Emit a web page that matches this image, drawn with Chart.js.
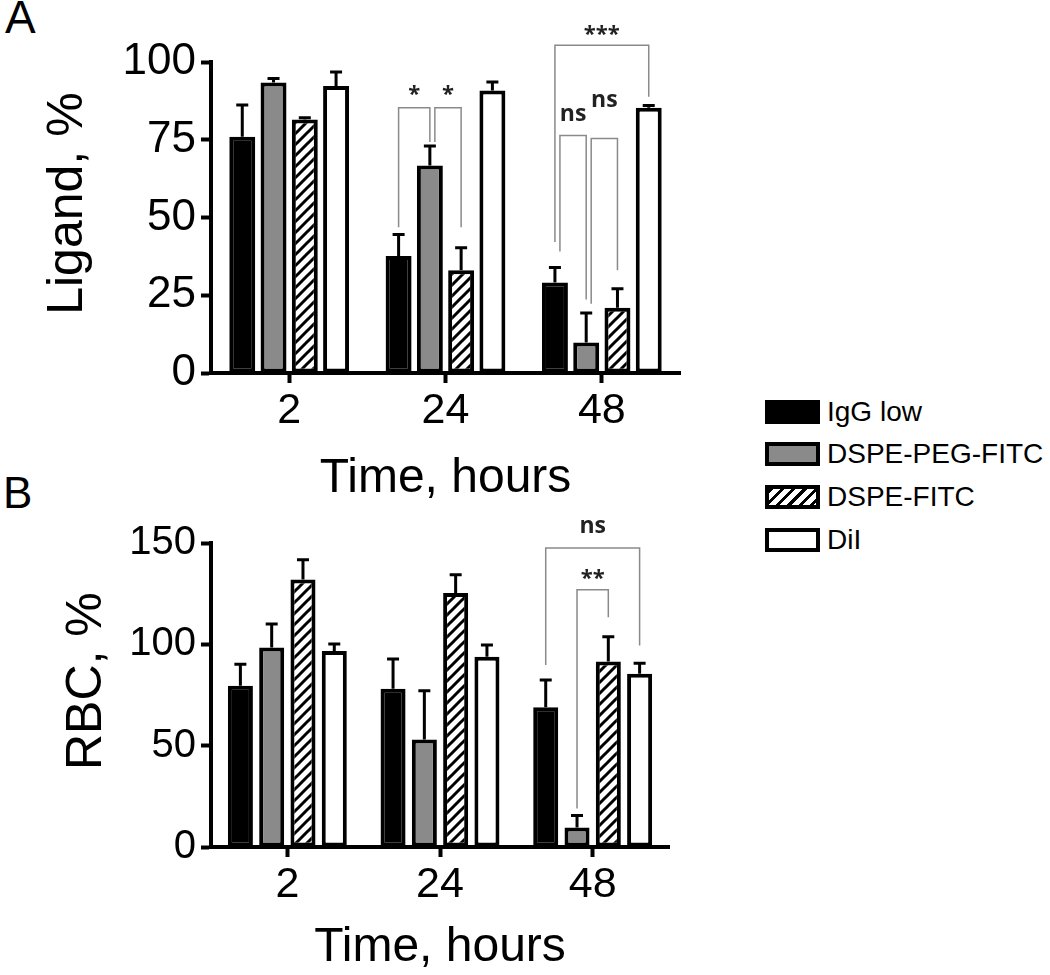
<!DOCTYPE html>
<html>
<head>
<meta charset="utf-8">
<script src="https://cdn.jsdelivr.net/npm/chart.js@4.4.0/dist/chart.umd.min.js"></script>
<style>
  body { margin: 0; background: #fff; width: 1050px; height: 975px; position: relative; overflow: hidden;
         font-family: "Liberation Sans", Arial, sans-serif; color: #000; }
  canvas { position: absolute; left: 0; }
  #chartA { top: 0; }
  #chartB { top: 490px; }
  .panel { position: absolute; line-height: 1; }
  .legend { position: absolute; left: 765px; top: 400px; }
  .item { position: absolute; left: 0; width: 300px; height: 24px; }
  .swatch { position: absolute; left: 0; top: 0; width: 55px; height: 24px; box-sizing: border-box; border: 4px solid #000; }
  .item span { position: absolute; left: 62px; top: -5px; font-size: 28px; line-height: 34px; white-space: nowrap; }
</style>
</head>
<body>
<div class="panel" style="left:5px; top:-6px; font-size:46px;">A</div>
<div class="panel" style="left:3px; top:471px; font-size:44px;">B</div>
<canvas id="chartA" width="700" height="510"></canvas>
<canvas id="chartB" width="700" height="485"></canvas>
<div class="legend">
  <div class="item" style="top:0"><div class="swatch" style="background:#000"></div><span>IgG low</span></div>
  <div class="item" style="top:42px"><div class="swatch" style="background:#8a8a8a"></div><span>DSPE-PEG-FITC</span></div>
  <div class="item" style="top:85px"><div class="swatch" style="background:repeating-linear-gradient(135deg,#000 0 3px,#fff 3px 8px)"></div><span>DSPE-FITC</span></div>
  <div class="item" style="top:128px"><div class="swatch" style="background:#fff"></div><span>DiI</span></div>
</div>
<script>
const FONT = '"Liberation Sans", Arial, sans-serif';

const timeLabels = ['2', '24', '48'];
const seriesNames = ['IgG low', 'DSPE-PEG-FITC', 'DSPE-FITC', 'DiI'];

// panel A: ligand, %
const ligandMean = [
  [76, 37.6, 29.1],
  [93.4, 66.7, 9.8],
  [81.5, 33, 21],
  [92.3, 90.8, 85.3]
];
const ligandErr = [
  [10.2, 6.9, 4.8],
  [1.3, 6.3, 9.5],
  [0.6, 7.3, 6.1],
  [4.5, 2.8, 0.7]
];
// brackets: group index, bars from/to, leg ends and top in data units, label level
const ligandBrackets = [
  { group: 1, from: 0, to: 1, left: 46.9, right: 74.3, top: 85.3, text: '*', at: 90.9 },
  { group: 1, from: 1, to: 2, left: 74.3, right: 46.9, top: 85.3, text: '*', at: 90.9 },
  { group: 2, from: 0, to: 3, left: 42.1, right: 88.8, top: 105.4, text: '***', at: 110.2 },
  { group: 2, from: 0, to: 1, left: 39.1, right: 23.6, top: 76.4, text: 'ns', at: 82.3 },
  { group: 2, from: 1, to: 2, left: 22.3, right: 33, top: 75.4, text: 'ns', at: 86.6 }
];

// panel B: RBC, %
const rbcMean = [
  [79.6, 78.1, 69],
  [98.4, 53.1, 9.6],
  [132, 125.3, 91.5],
  [96.7, 93.9, 85.5]
];
const rbcErr = [
  [10.6, 14.7, 13.4],
  [11.6, 24, 5.9],
  [9.7, 9, 12.2],
  [3.5, 5.8, 5.2]
];
const rbcBrackets = [
  { group: 2, from: 0, to: 3, left: 89.8, right: 99.4, top: 147.5, text: 'ns', at: 156.9 },
  { group: 2, from: 1, to: 2, left: 19, right: 113.4, top: 126.9, text: '**', at: 134.3 }
];

function hatchPattern() {
  const c = document.createElement('canvas');
  c.width = 11; c.height = 11;
  const g = c.getContext('2d');
  g.fillStyle = '#fff';
  g.fillRect(0, 0, 11, 11);
  g.strokeStyle = '#000';
  g.lineWidth = 3;
  g.beginPath();
  g.moveTo(-2, 13); g.lineTo(13, -2);
  g.moveTo(-7, 7); g.lineTo(7, -7);
  g.moveTo(4, 18); g.lineTo(18, 4);
  g.stroke();
  return g.createPattern(c, 'repeat');
}

const fills = ['#000', '#8a8a8a', hatchPattern(), '#fff'];

const errorBars = {
  id: 'errorBars',
  afterDatasetsDraw(chart) {
    const ctx = chart.ctx;
    const y = chart.scales.y;
    ctx.save();
    ctx.strokeStyle = '#000';
    ctx.lineWidth = 3;
    chart.data.datasets.forEach((ds, i) => {
      chart.getDatasetMeta(i).data.forEach((bar, j) => {
        const top = y.getPixelForValue(ds.data[j] + ds.errors[j]);
        ctx.beginPath();
        ctx.moveTo(bar.x, bar.y);
        ctx.lineTo(bar.x, top);
        ctx.moveTo(bar.x - 6, top);
        ctx.lineTo(bar.x + 6, top);
        ctx.stroke();
      });
    });
    ctx.restore();
  }
};

const brackets = {
  id: 'brackets',
  afterDraw(chart, args, opts) {
    const ctx = chart.ctx;
    const y = chart.scales.y;
    const items = opts.items || [];
    ctx.save();
    items.forEach((b, k) => {
      // nudge a leg sideways when another bracket already uses that bar
      const shared = items.some((o, m) => m < k && o.group === b.group && (o.from === b.from || o.to === b.from));
      const x1 = chart.getDatasetMeta(b.from).data[b.group].x + (shared ? 5 : 0);
      const x2 = chart.getDatasetMeta(b.to).data[b.group].x;
      const yt = y.getPixelForValue(b.top);
      ctx.strokeStyle = '#8a8a8a';
      ctx.lineWidth = 1.5;
      ctx.beginPath();
      ctx.moveTo(x1, y.getPixelForValue(b.left));
      ctx.lineTo(x1, yt);
      ctx.lineTo(x2, yt);
      ctx.lineTo(x2, y.getPixelForValue(b.right));
      ctx.stroke();
      const star = b.text.indexOf('*') === 0;
      ctx.fillStyle = '#222';
      ctx.font = 'bold ' + (star ? 22 : 23) + 'px "Open Sans", sans-serif';
      ctx.textAlign = 'center';
      ctx.textBaseline = 'middle';
      ctx.fillText(b.text, (x1 + x2) / 2, y.getPixelForValue(b.at) + (star ? 4 : -3));
    });
    ctx.restore();
  }
};

function makeChart(id, cfg) {
  const axisLine = { display: true, width: 4, color: '#000' };
  const tickLines = { display: true, drawOnChartArea: false, drawTicks: true, tickLength: 10, tickWidth: 4, tickColor: '#000' };
  return new Chart(document.getElementById(id).getContext('2d'), {
    type: 'bar',
    data: {
      labels: timeLabels,
      datasets: seriesNames.map((name, i) => ({
        label: name,
        data: cfg.mean[i],
        errors: cfg.err[i],
        backgroundColor: fills[i],
        borderColor: '#000',
        borderWidth: 4,
        borderSkipped: false,
        categoryPercentage: cfg.catPct,
        barPercentage: cfg.barPct
      }))
    },
    options: {
      responsive: false,
      animation: false,
      devicePixelRatio: 1,
      layout: { padding: { top: cfg.padTop, right: cfg.padRight, bottom: 0, left: 0 } },
      plugins: {
        legend: { display: false },
        tooltip: { enabled: false },
        brackets: { items: cfg.brackets }
      },
      scales: {
        x: {
          offset: true,
          grid: Object.assign({ offset: false }, tickLines),
          border: axisLine,
          ticks: { color: '#000', font: { family: FONT, size: 43 }, padding: 2, maxRotation: 0 },
          title: { display: true, text: 'Time, hours', color: '#000',
                   font: { family: FONT, size: 48, lineHeight: 1.1 }, padding: { top: 0, bottom: cfg.xTitlePad } },
          afterFit: s => { s.height = cfg.xAxisHeight; }
        },
        y: {
          min: 0,
          max: cfg.max,
          grid: tickLines,
          border: axisLine,
          ticks: { stepSize: cfg.step, color: '#000', font: { family: FONT, size: cfg.yTickSize }, padding: 5 },
          // two leading no-break spaces lift the rotated title a little, as in the original
          title: { display: true, text: '\u00a0\u00a0' + cfg.yTitle, color: '#000',
                   font: { family: FONT, size: 50, lineHeight: 1.1 }, padding: { top: cfg.yTitlePad, bottom: 0 } },
          afterFit: s => { s.width = 211; }
        }
      }
    },
    plugins: [errorBars, brackets]
  });
}

makeChart('chartA', {
  mean: ligandMean, err: ligandErr, brackets: ligandBrackets,
  max: 100, step: 25, yTitle: 'Ligand, %', yTickSize: 44, yTitlePad: 41,
  padTop: 62, padRight: 20, xAxisHeight: 137, xTitlePad: 5,
  catPct: 0.8, barPct: 0.83
});

makeChart('chartB', {
  mean: rbcMean, err: rbcErr, brackets: rbcBrackets,
  max: 150, step: 50, yTitle: 'RBC, %', yTickSize: 40, yTitlePad: 60,
  padTop: 53, padRight: 31, xAxisHeight: 128, xTitlePad: 1,
  catPct: 0.82, barPct: 0.8
});
</script>
</body>
</html>
